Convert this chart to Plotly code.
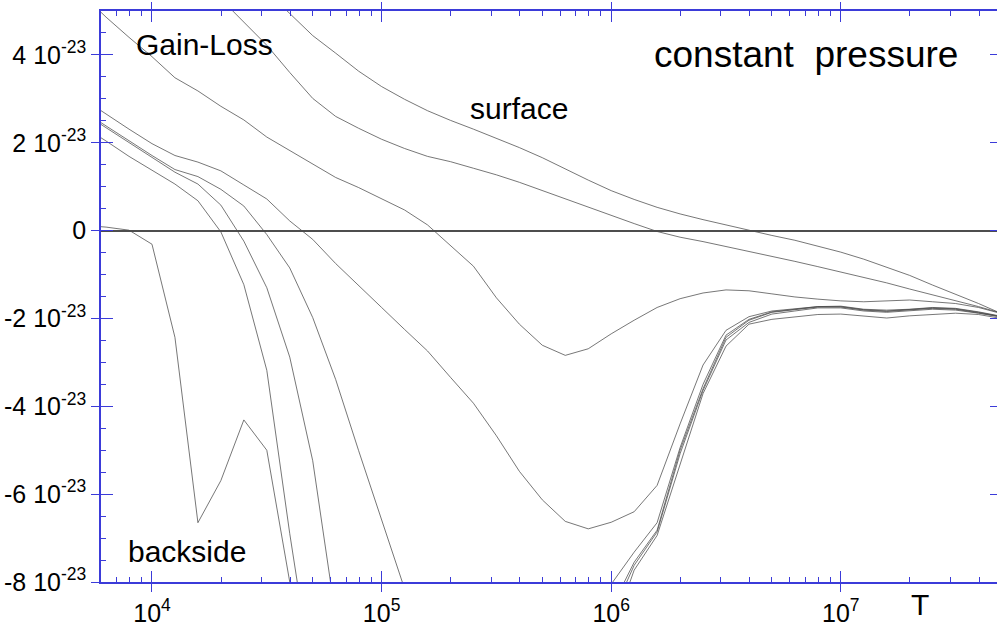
import plotly.graph_objects as go

# Temperature grid (log10 T) shared by all runs
LOG_T = [3.7, 3.8, 3.9, 4.0, 4.1, 4.2, 4.3, 4.4, 4.5, 4.6,
         4.7, 4.8, 4.9, 5.0, 5.1, 5.2, 5.3, 5.4, 5.5, 5.6,
         5.7, 5.8, 5.9, 6.0, 6.1, 6.2, 6.3, 6.4, 6.5, 6.6,
         6.7, 6.8, 6.9, 7.0, 7.1, 7.2, 7.3, 7.4, 7.5, 7.6, 7.7]

# Net heating (gain - loss), in units of 1e-23
SURFACE_A = [10.1, 9.5, 8.9, 8.3, 7.7, 7.1, 6.5, 5.95, 5.44, 4.93,
             4.44, 4.04, 3.63, 3.28, 2.99, 2.73, 2.51, 2.31, 2.10, 1.89,
             1.66, 1.40, 1.15, 0.91, 0.71, 0.53, 0.38, 0.25, 0.13, 0.0,
             -0.11, -0.22, -0.35, -0.49, -0.65, -0.83, -1.02, -1.24, -1.45, -1.66, -1.89]
SURFACE_B = [8.7, 8.1, 7.5, 6.9, 6.3, 5.8, 5.27, 4.73, 4.22, 3.60,
             3.01, 2.60, 2.33, 2.08, 1.87, 1.69, 1.57, 1.42, 1.27, 1.10,
             0.91, 0.73, 0.54, 0.34, 0.16, -0.02, -0.15, -0.25, -0.36, -0.47,
             -0.58, -0.70, -0.82, -0.94, -1.07, -1.19, -1.33, -1.46, -1.60, -1.73, -1.88]
GAIN_LOSS = [5.36, 4.86, 4.40, 3.96, 3.48, 3.18, 2.83, 2.52, 2.13, 1.82,
             1.51, 1.21, 0.98, 0.72, 0.47, 0.13, -0.33, -0.81, -1.53, -2.13,
             -2.61, -2.84, -2.69, -2.35, -2.04, -1.75, -1.55, -1.42, -1.35, -1.37,
             -1.44, -1.51, -1.56, -1.60, -1.62, -1.60, -1.58, -1.62, -1.66, -1.75, -1.89]
LAYER_1 = [3.0, 2.65, 2.31, 1.98, 1.71, 1.56, 1.36, 1.04, 0.72, 0.22,
           -0.2, -0.75, -1.24, -1.75, -2.25, -2.74, -3.34, -3.93, -4.67, -5.48,
           -6.13, -6.62, -6.79, -6.64, -6.40, -5.8, -4.4, -3.06, -2.27, -1.96,
           -1.83, -1.78, -1.73, -1.72, -1.79, -1.81, -1.79, -1.75, -1.77, -1.85, -1.95]
LAYER_2 = [2.72, 2.38, 2.04, 1.71, 1.39, 1.23, 0.94, 0.56, -0.09, -0.85,
           -1.98, -3.39, -5.01, -6.62, -8.2, -9.8, -11.3, -12.5, -13.2, -13.4,
           -12.9, -11.6, -9.9, -8.05, -7.32, -6.65, -4.94, -3.50, -2.38, -2.02,
           -1.85, -1.79, -1.73, -1.73, -1.80, -1.83, -1.80, -1.76, -1.78, -1.86, -1.96]
LAYER_3 = [2.68, 2.34, 2.0, 1.66, 1.33, 1.06, 0.58, -0.24, -1.30, -2.88,
           -5.24, -8.8, -11.5, -14.0, -16.0, -17.5, -18.5, -19.0, -18.8, -17.8,
           -16.0, -13.5, -11.0, -8.6, -7.55, -6.82, -5.0, -3.6, -2.43, -2.04,
           -1.86, -1.80, -1.74, -1.74, -1.81, -1.84, -1.81, -1.77, -1.79, -1.87, -1.96]
LAYER_4 = [2.37, 2.04, 1.69, 1.38, 1.06, 0.68, -0.03, -1.23, -3.18, -6.9,
           -10.5, -14.0, -17.0, -19.5, -21.5, -23.0, -24.0, -24.5, -24.0, -22.5,
           -20.0, -16.5, -12.5, -8.79, -7.62, -6.86, -5.08, -3.64, -2.49, -2.09,
           -1.90, -1.83, -1.76, -1.76, -1.83, -1.86, -1.83, -1.79, -1.81, -1.88, -1.97]
BACKSIDE = [0.12, 0.08, 0.01, -0.31, -2.43, -6.65, -5.69, -4.31, -5.0, -7.95,
            -11.0, -15.0, -18.0, -21.0, -23.0, -25.0, -26.0, -26.5, -26.0, -24.5,
            -22.0, -18.0, -13.5, -9.2, -7.73, -6.94, -5.30, -3.71, -2.63, -2.13,
            -2.02, -1.96, -1.91, -1.90, -1.94, -1.99, -1.94, -1.91, -1.88, -1.91, -2.0]

UNIT = 1e-23
X_TICKS = [1e4, 1e5, 1e6, 1e7]
X_TICK_TEXT = ["10<sup>4</sup>", "10<sup>5</sup>", "10<sup>6</sup>", "10<sup>7</sup>"]
X_MINOR = [k * 10 ** n for n in range(3, 8) for k in range(2, 10)]
Y_TICKS = [-8, -6, -4, -2, 0, 2, 4]
Y_TICK_TEXT = ["-8 10<sup>-23</sup>", "-6 10<sup>-23</sup>", "-4 10<sup>-23</sup>",
               "-2 10<sup>-23</sup>", "0", "2 10<sup>-23</sup>", "4 10<sup>-23</sup>"]
X_RANGE = [3.7779, 7.6803]
Y_RANGE = [-8, 5]

AXIS_BLUE = "#3b3bd9"
LINE_COLOR = "#4a4a4a"
FONT = "Liberation Sans, Arial, sans-serif"

T = [10 ** v for v in LOG_T]

fig = go.Figure()
for series in [SURFACE_A, SURFACE_B, GAIN_LOSS, LAYER_1, LAYER_2, LAYER_3, LAYER_4, BACKSIDE]:
    fig.add_trace(go.Scatter(
        x=T, y=[v * UNIT for v in series], mode="lines",
        line=dict(color=LINE_COLOR, width=0.75),
        showlegend=False, hoverinfo="skip",
    ))

# empty traces so the extra tick-only axes are laid out
for xa, ya in [("x2", "y"), ("x3", "y"), ("x4", "y"), ("x", "y2"), ("x", "y3")]:
    fig.add_trace(go.Scatter(x=[], y=[], xaxis=xa, yaxis=ya, mode="lines",
                             showlegend=False, hoverinfo="skip"))

common_x = dict(type="log", range=X_RANGE, showgrid=False, zeroline=False)
common_y = dict(range=[Y_RANGE[0] * UNIT, Y_RANGE[1] * UNIT], showgrid=False)

fig.update_layout(
    width=997, height=627,
    margin=dict(l=101, r=0, t=11, b=38),
    paper_bgcolor="white", plot_bgcolor="white",
    font=dict(family=FONT, color="black"),
    showlegend=False,
    xaxis=dict(
        **common_x, showline=True, linecolor=AXIS_BLUE, linewidth=1.5,
        ticks="outside", ticklen=8, tickwidth=1, tickcolor=AXIS_BLUE,
        tickvals=X_TICKS, ticktext=X_TICK_TEXT, tickfont=dict(size=25, family=FONT),
    ),
    xaxis2=dict(
        **common_x, overlaying="x", side="bottom", anchor="y", showline=False,
        ticks="inside", ticklen=11, tickwidth=1, tickcolor=AXIS_BLUE,
        tickvals=X_TICKS, showticklabels=False,
        minor=dict(ticks="inside", ticklen=5, tickwidth=1, tickcolor=AXIS_BLUE,
                   tickvals=X_MINOR, showgrid=False),
    ),
    xaxis3=dict(
        **common_x, overlaying="x", side="top", anchor="y", showline=True,
        linecolor=AXIS_BLUE, linewidth=1.5,
        ticks="inside", ticklen=11, tickwidth=1, tickcolor=AXIS_BLUE,
        tickvals=X_TICKS, showticklabels=False,
        minor=dict(ticks="inside", ticklen=5, tickwidth=1, tickcolor=AXIS_BLUE,
                   tickvals=X_MINOR, showgrid=False),
    ),
    xaxis4=dict(
        **common_x, overlaying="x", side="top", anchor="y", showline=False,
        ticks="outside", ticklen=8, tickwidth=1, tickcolor=AXIS_BLUE,
        tickvals=X_TICKS, showticklabels=False,
    ),
    yaxis=dict(
        **common_y, showline=True, linecolor=AXIS_BLUE, linewidth=1.5,
        ticks="outside", ticklen=8, tickwidth=1, tickcolor=AXIS_BLUE,
        tickvals=[v * UNIT for v in Y_TICKS], ticktext=Y_TICK_TEXT,
        tickfont=dict(size=25, family=FONT),
        zeroline=True, zerolinecolor="#4d4d4d", zerolinewidth=1.6,
    ),
    yaxis2=dict(
        **common_y, overlaying="y", side="left", anchor="x", showline=False,
        zeroline=False,
        ticks="inside", ticklen=12, tickwidth=1, tickcolor=AXIS_BLUE,
        tickvals=[v * UNIT for v in Y_TICKS], showticklabels=False,
        minor=dict(ticks="inside", ticklen=5, tickwidth=1, tickcolor=AXIS_BLUE,
                   dtick=0.5 * UNIT, showgrid=False),
    ),
    yaxis3=dict(
        **common_y, overlaying="y", side="right", anchor="x", showline=False,
        zeroline=False,
        ticks="inside", ticklen=7, tickwidth=1, tickcolor=AXIS_BLUE,
        tickvals=[v * UNIT for v in Y_TICKS], showticklabels=False,
    ),
)

labels = [
    ("Gain-Loss", 0.1155, 0.942, 30),
    ("surface", 0.4665, 0.830, 30),
    ("constant\u00a0\u00a0pressure", 0.787, 0.923, 37),
    ("backside", 0.0965, 0.053, 30),
    ("T", 0.914, -0.039, 30),
]
for text, x, y, size in labels:
    fig.add_annotation(
        text=text, x=x, y=y, xref="paper", yref="paper",
        xanchor="center", yanchor="middle", showarrow=False,
        font=dict(size=size, family=FONT, color="black"),
    )

fig.write_html("out.html")
